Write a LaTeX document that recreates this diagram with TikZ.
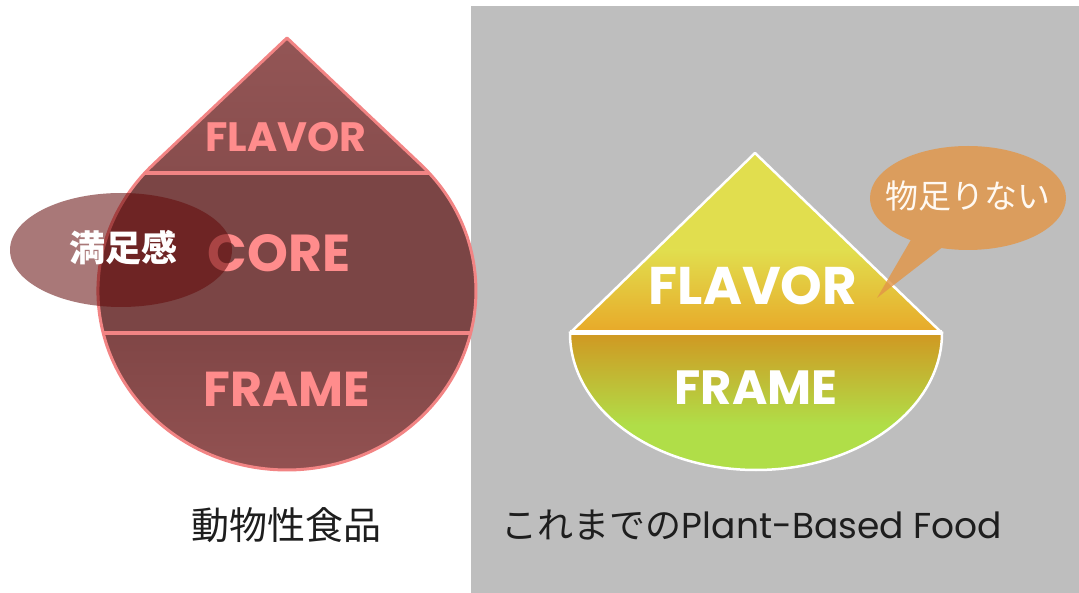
\documentclass[tikz,border=0pt]{standalone}
\usepackage{fontspec}
\newfontfamily\pop{Poppins}
\newfontfamily\jp{Noto Sans CJK JP}
\usetikzlibrary{shapes.geometric,shapes.callouts}
\definecolor{bggray}{RGB}{190,190,190}
\definecolor{dtop}{RGB}{148,86,86}
\definecolor{dtopb}{RGB}{136,77,77}
\definecolor{dmid}{RGB}{123,69,69}
\definecolor{dbota}{RGB}{128,70,70}
\definecolor{dbotb}{RGB}{147,82,82}
\definecolor{dpink}{RGB}{242,132,132}
\definecolor{ptext}{RGB}{255,140,140}
\definecolor{sat}{RGB}{100,10,10}
\definecolor{ytop}{RGB}{225,222,78}
\definecolor{yor}{RGB}{232,168,40}
\definecolor{bor}{RGB}{208,152,34}
\definecolor{bgreen}{RGB}{176,222,72}
\definecolor{bub}{RGB}{226,150,72}
\definecolor{captxt}{RGB}{30,30,30}
\tikzset{
  ptxt/.style={text=ptext, inner sep=0pt},
  wtxt/.style={text=white, inner sep=0pt},
  captionstyle/.style={text=captxt, inner sep=0pt},
}
\begin{document}
\begin{tikzpicture}[x=1pt,y=-1pt]
\useasboundingbox (0,0) rectangle (1079,593);
\fill[white] (0,0) rectangle (1079,593);
\fill[bggray] (471,6) rectangle (1079,593);
% ---------- left drop ----------
\def\droppath{(287,38) -- (153.3,164.4) arc[start angle=225,end angle=-45,x radius=189,y radius=179] -- cycle}
\begin{scope}
\clip \droppath;
\shade[top color=dtop, bottom color=dtopb] (80,30) rectangle (500,173);
\fill[dmid] (80,173) rectangle (500,333);
\shade[top color=dbota, bottom color=dbotb] (80,333) rectangle (500,475);
\draw[dpink, line width=4] (80,173) -- (500,173);
\draw[dpink, line width=4] (80,333) -- (500,333);
\end{scope}
\draw[dpink, line width=3, line join=round] \droppath;
\node[ptxt, font=\pop\bfseries\fontsize{41}{41}\selectfont] (lflavor) at (286,137) {FLAVOR};
\node[ptxt, font=\pop\bfseries\fontsize{52}{52}\selectfont] (lcore) at (279,253) {CORE};
\node[ptxt, font=\pop\bfseries\fontsize{49}{49}\selectfont] (lframe) at (287,389) {FRAME};
\node[ellipse, fill=sat, fill opacity=0.55, minimum width=222, minimum height=114, inner sep=0pt] (sat) at (121,250) {};
\node[wtxt, font=\jp\bfseries\fontsize{36}{36}\selectfont] (sattxt) at (123,248) {満足感};
% ---------- right shape ----------
\def\tripath{(755,153) -- (942,333) -- (570,333) -- cycle}
\def\botpath{(942,333) arc[start angle=0,end angle=180,x radius=186,y radius=137] -- cycle}
\begin{scope}
\clip \tripath;
\fill[ytop] (560,150) rectangle (950,250);
\shade[top color=ytop, bottom color=yor] (560,250) rectangle (950,334);
\end{scope}
\begin{scope}
\clip \botpath;
\shade[top color=bor, bottom color=bgreen] (560,333) rectangle (950,425);
\fill[bgreen] (560,425) rectangle (950,475);
\end{scope}
\draw[white, line width=2.5, line join=round] (570,333) -- (755,153) -- (942,333);
\draw[white, line width=2.5] \botpath;
\draw[white, line width=5] (570,333) -- (942,333);
\node[wtxt, font=\pop\bfseries\fontsize{53}{53}\selectfont] (rflavor) at (753,286) {FLAVOR};
\node[wtxt, font=\pop\bfseries\fontsize{48}{48}\selectfont] (rframe) at (756,388) {FRAME};
\coordinate (tip) at (877,298);
\node[ellipse callout, callout absolute pointer=(tip), callout pointer arc=20, fill=bub, fill opacity=0.82,
  minimum width=196, minimum height=104, inner sep=0pt] (bubble) at (968,198) {};
\node[text=white!95!orange, inner sep=0pt, font=\jp\fontsize{33}{33}\selectfont] (bubtxt) at (968,196) {物足りない};
% ---------- captions ----------
\node[captionstyle, font=\jp\fontsize{38}{38}\selectfont] (lcap) at (286,525) {動物性食品};
\node[captionstyle, font=\pop\fontsize{36}{36}\selectfont] (rcap) at (752,525) {\jp これまでの\pop Plant-Based Food};
\end{tikzpicture}
\end{document}
